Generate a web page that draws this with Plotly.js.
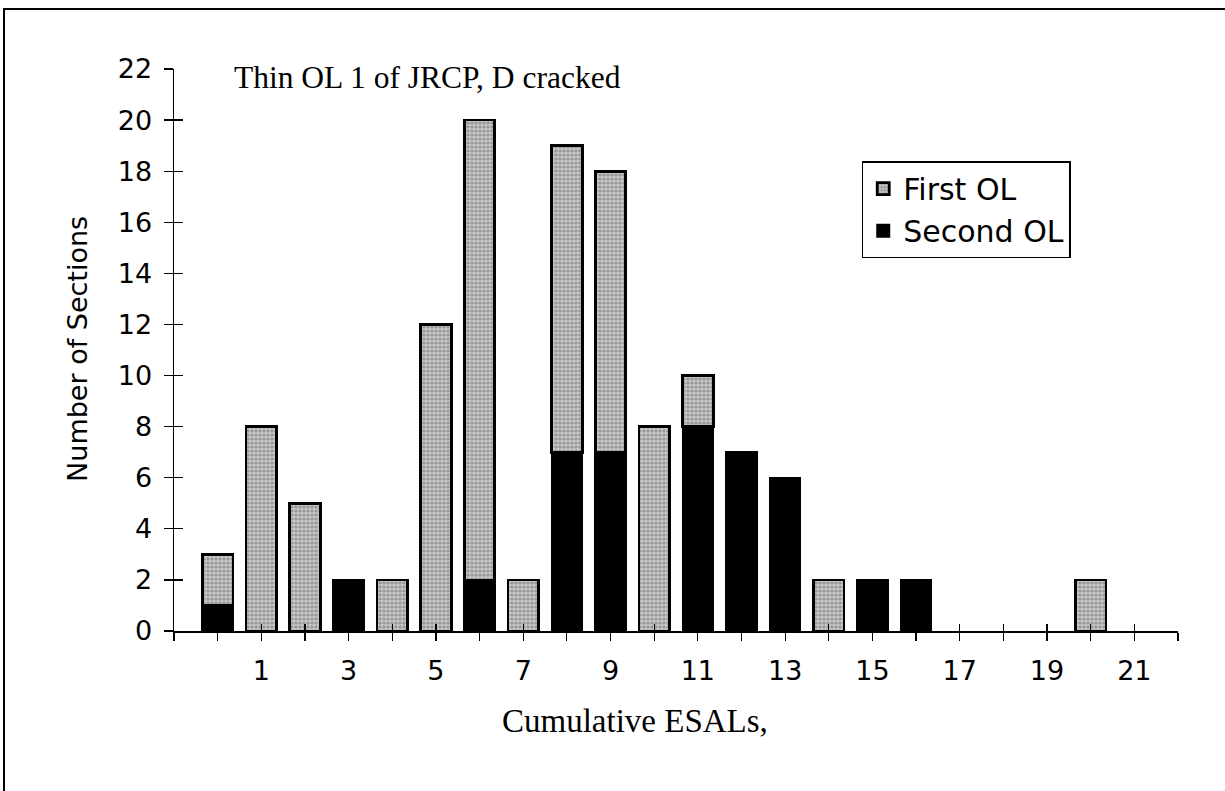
<!DOCTYPE html>
<html>
<head>
<meta charset="utf-8">
<script src="https://cdn.plot.ly/plotly-3.0.1.min.js"></script>
<style>
  html, body { margin: 0; padding: 0; background: #fff; }
  #wrap { position: relative; width: 1225px; height: 791px; overflow: hidden; }
  #chart { position: absolute; left: 0; top: 0; width: 1225px; height: 791px; }
  #frame { position: absolute; left: 3px; top: 8px; width: 1240px; height: 800px;
           border-top: 2px solid #000; border-left: 2px solid #000; pointer-events: none; }
</style>
</head>
<body>
<div id="wrap">
  <div id="chart"></div>
  <div id="frame"></div>
</div>
<script>
// Data (null = no bar segment)
const categories = [0, 1, 2, 3, 4, 5, 6, 7, 8, 9, 10, 11, 12, 13, 14, 15, 16, 17, 18, 19, 20];
const firstOL  = [2, 8, 5, null, 2, 12, 18, 2, 12, 11, 8, 2, null, null, 2, null, null, null, null, null, 2];
const secondOL = [1, null, null, 2, null, null, 2, null, 7, 7, null, 8, 7, 6, null, 2, 2, null, null, null, null];
const xTickVals = [-1, 0, 1, 2, 3, 4, 5, 6, 7, 8, 9, 10, 11, 12, 13, 14, 15, 16, 17, 18, 19, 20, 21, 22];
const xTickText = ['', '', '1', '', '3', '', '5', '', '7', '', '9', '', '11', '', '13', '', '15', '', '17', '', '19', '', '21', ''];
const yTickVals = [0, 2, 4, 6, 8, 10, 12, 14, 16, 18, 20, 22];
const chartTitle = 'Thin OL 1 of JRCP, D cracked';
const xTitle = 'Cumulative ESALs,';
const yTitle = 'Number of Sections';

const sans = 'DejaVu Sans, Verdana, sans-serif';
const serif = 'Liberation Serif, Times New Roman, serif';

const traces = [
  {
    type: 'bar', name: 'Second OL', x: categories, y: secondOL, width: 0.7,
    marker: { color: '#000000', line: { color: '#000000', width: 2 } }
  },
  {
    type: 'bar', name: 'First OL', x: categories, y: firstOL, width: 0.7,
    marker: {
      color: '#b4b4b4',
      line: { color: '#000000', width: 2.8 },
      pattern: { shape: '.', bgcolor: '#c6c6c6', fgcolor: '#666666', size: 4, solidity: 0.5, fillmode: 'overlay' }
    }
  },
  { type: 'scatter', x: [], y: [], xaxis: 'x2', yaxis: 'y2', showlegend: false, hoverinfo: 'skip' }
];

const tickFont = { family: sans, size: 27, color: '#000' };

const layout = {
  width: 1225, height: 791,
  margin: { l: 174, r: 47, t: 69, b: 160, pad: 0 },
  paper_bgcolor: '#ffffff', plot_bgcolor: '#ffffff',
  barmode: 'stack',
  showlegend: true,
  legend: {
    x: 0.685, y: 0.836, xanchor: 'left', yanchor: 'top',
    bordercolor: '#000', borderwidth: 1.5, bgcolor: '#fff',
    font: { family: sans, size: 30, color: '#000' },
    traceorder: 'reversed', itemwidth: 30, tracegroupgap: 0
  },
  xaxis: {
    range: [-1, 22], tickmode: 'array', tickvals: xTickVals, ticktext: xTickText,
    showgrid: false, zeroline: false, showline: true, linecolor: '#000', linewidth: 1.5,
    ticks: 'outside', ticklen: 8, tickwidth: 1.2, tickcolor: '#000',
    tickfont: tickFont, ticklabelstandoff: 7, fixedrange: true
  },
  xaxis2: {
    range: [-1, 22], overlaying: 'x', anchor: 'y', tickmode: 'array', tickvals: xTickVals,
    showticklabels: false, showgrid: false, zeroline: false, showline: false,
    ticks: 'inside', ticklen: 7, tickwidth: 1.2, tickcolor: '#000'
  },
  yaxis: {
    range: [0, 22], tickmode: 'array', tickvals: yTickVals,
    showgrid: false, zeroline: false, showline: true, linecolor: '#000', linewidth: 1.5,
    ticks: 'outside', ticklen: 9, tickwidth: 1.2, tickcolor: '#000',
    tickfont: tickFont, ticklabelstandoff: 6, fixedrange: true
  },
  yaxis2: {
    range: [0, 22], overlaying: 'y', anchor: 'x', tickmode: 'array', tickvals: yTickVals,
    showticklabels: false, showgrid: false, zeroline: false, showline: false,
    ticks: 'inside', ticklen: 9, tickwidth: 1.2, tickcolor: '#000'
  },
  annotations: [
    { text: chartTitle, xref: 'paper', yref: 'paper', x: 0.0578, y: 0.985,
      xanchor: 'left', yanchor: 'middle', showarrow: false,
      font: { family: serif, size: 31.5, color: '#000' } },
    { text: xTitle, xref: 'paper', yref: 'paper', x: 0.459, y: -0.161,
      xanchor: 'center', yanchor: 'middle', showarrow: false,
      font: { family: serif, size: 33, color: '#000' } },
    { text: yTitle, xref: 'paper', yref: 'paper', x: -0.0956, y: 0.502,
      xanchor: 'center', yanchor: 'middle', showarrow: false, textangle: -90,
      font: { family: sans, size: 27, color: '#000' } }
  ]
};

Plotly.newPlot('chart', traces, layout, { displayModeBar: false, staticPlot: true });
</script>
</body>
</html>
